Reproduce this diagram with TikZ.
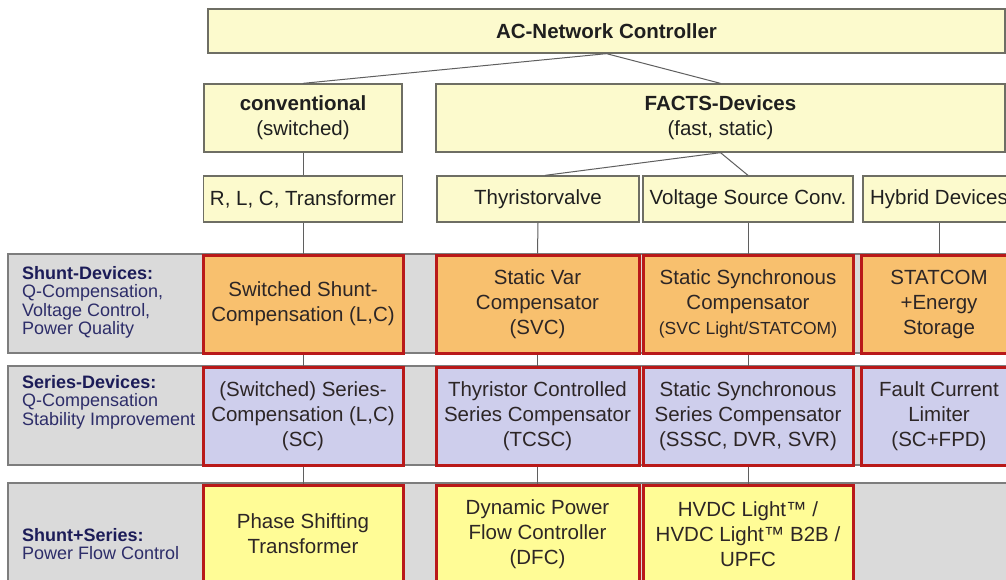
\documentclass[tikz,border=0pt]{standalone}
\usepackage{fontspec}
\setmainfont{Liberation Sans}
\definecolor{paleyellow}{RGB}{252,250,205}
\definecolor{boxgray}{RGB}{110,110,100}
\definecolor{darkred}{RGB}{185,25,25}
\definecolor{orangefill}{RGB}{248,192,110}
\definecolor{lavender}{RGB}{206,206,236}
\definecolor{yellowfill}{RGB}{255,252,150}
\definecolor{bandgray}{RGB}{218,218,218}
\definecolor{bandedge}{RGB}{125,125,125}
\definecolor{linegray}{RGB}{95,95,95}
\definecolor{txt}{RGB}{45,38,38}
\definecolor{navy}{RGB}{28,28,88}
\definecolor{navytxt}{RGB}{45,45,105}
\tikzset{
  mainfont/.style={font=\fontsize{20.5}{25}\selectfont},
  topbox/.style={draw=boxgray, fill=paleyellow, line width=1.3pt, inner sep=0pt,
    align=center, text=black!88, mainfont},
  redbox/.style={draw=darkred, line width=3pt, inner sep=0pt, align=center,
    text=txt, mainfont},
  shuntbox/.style={redbox, fill=orangefill},
  seriesbox/.style={redbox, fill=lavender},
  flowbox/.style={redbox, fill=yellowfill},
  band/.style={fill=bandgray, draw=bandedge, line width=1.2pt},
  rowlabel/.style={anchor=west, align=left, inner sep=0pt, text=navytxt,
    font=\fontsize{18}{18.5}\selectfont},
  conn/.style={draw=linegray, line width=1pt},
  colA/.style={minimum width=200pt},
  colB/.style={minimum width=203pt},
  colC/.style={minimum width=210pt},
  colD/.style={minimum width=156pt},
  rowh/.style={minimum height=98pt},
}
\begin{document}
\begin{tikzpicture}[x=1pt,y=-1pt]
\useasboundingbox (0,0) rectangle (1006,579);
\clip (0,0) rectangle (1006,579);
\fill[white] (0,0) rectangle (1006,579);

% background bands
\draw[band] (8,254) rectangle (1025,353);
\draw[band] (8,366) rectangle (1025,465);
\draw[band] (8,483) rectangle (1025,610);

% row labels
\node[rowlabel] (lab1) at (22,302.5) {\textbf{\color{navy}Shunt-Devices:}\\Q-Compensation,\\Voltage Control,\\Power Quality};
\node[rowlabel] (lab2) at (22,402) {\textbf{\color{navy}Series-Devices:}\\Q-Compensation\\Stability Improvement};
\node[rowlabel] (lab3) at (22,544) {\textbf{\color{navy}Shunt+Series:}\\Power Flow Control};

% top hierarchy
\node[topbox, minimum width=797pt, minimum height=44pt] (ctrl) at (606.5,31) {\textbf{AC-Network Controller}};
\node[topbox, minimum width=198pt, minimum height=68pt] (conv) at (303,118) {\textbf{conventional}\\(switched)};
\node[topbox, minimum width=569pt, minimum height=68pt] (facts) at (720.5,118) {\textbf{FACTS-Devices}\\(fast, static)};

\node[topbox, minimum width=199pt, minimum height=46pt] (rlc) at (303,199) {R, L, C, Transformer};
\node[topbox, minimum width=202pt, minimum height=46pt] (thy) at (538,199) {Thyristorvalve};
\node[topbox, minimum width=210pt, minimum height=46pt] (vsc) at (748,199) {Voltage Source Conv.};
\node[topbox, minimum width=152pt, minimum height=46pt] (hyb) at (939,199) {Hybrid Devices};

% shunt row
\node[shuntbox, colA, rowh] (a1) at (303,304) {Switched Shunt-\\Compensation (L,C)};
\node[shuntbox, colB, rowh] (b1) at (537.5,304) {Static Var\\Compensator\\(SVC)};
\node[shuntbox, colC, rowh] (c1) at (748,304) {Static Synchronous\\Compensator\\{\fontsize{17.5}{25}\selectfont (SVC Light/STATCOM)}};
\node[shuntbox, colD, rowh] (d1) at (939,304) {STATCOM\\+Energy\\Storage};

% series row
\node[seriesbox, colA, rowh] (a2) at (303,416) {(Switched) Series-\\Compensation (L,C)\\(SC)};
\node[seriesbox, colB, rowh] (b2) at (537.5,416) {Thyristor Controlled\\Series Compensator\\(TCSC)};
\node[seriesbox, colC, rowh] (c2) at (748,416) {Static Synchronous\\Series Compensator\\(SSSC, DVR, SVR)};
\node[seriesbox, colD, rowh] (d2) at (939,416) {Fault Current\\Limiter\\(SC+FPD)};

% shunt+series row
\node[flowbox, colA, rowh] (a3) at (303,534) {Phase Shifting\\Transformer};
\node[flowbox, colB, rowh] (b3) at (537.5,534) {Dynamic Power\\Flow Controller\\(DFC)};
\node[flowbox, colC, rowh] (c3) at (748,534) {HVDC Light™ /\\HVDC Light™ B2B /\\UPFC};

% connectors
\draw[conn] (ctrl.south) -- (conv.north);
\draw[conn] (ctrl.south) -- (facts.north);
\draw[conn] (conv.south) -- (rlc.north);
\draw[conn] (facts.south) -- ([xshift=7pt]thy.north);
\draw[conn] (facts.south) -- (vsc.north);
\draw[conn] (rlc.south) -- (a1.north);
\draw[conn] (thy.south) -- (b1.north);
\draw[conn] (vsc.south) -- (c1.north);
\draw[conn] (hyb.south) -- (d1.north);
\draw[conn] (a1.south) -- (a2.north);
\draw[conn] (b1.south) -- (b2.north);
\draw[conn] (c1.south) -- (c2.north);
\draw[conn] (a2.south) -- (a3.north);
\draw[conn] (b2.south) -- (b3.north);
\draw[conn] (c2.south) -- (c3.north);
\end{tikzpicture}
\end{document}
